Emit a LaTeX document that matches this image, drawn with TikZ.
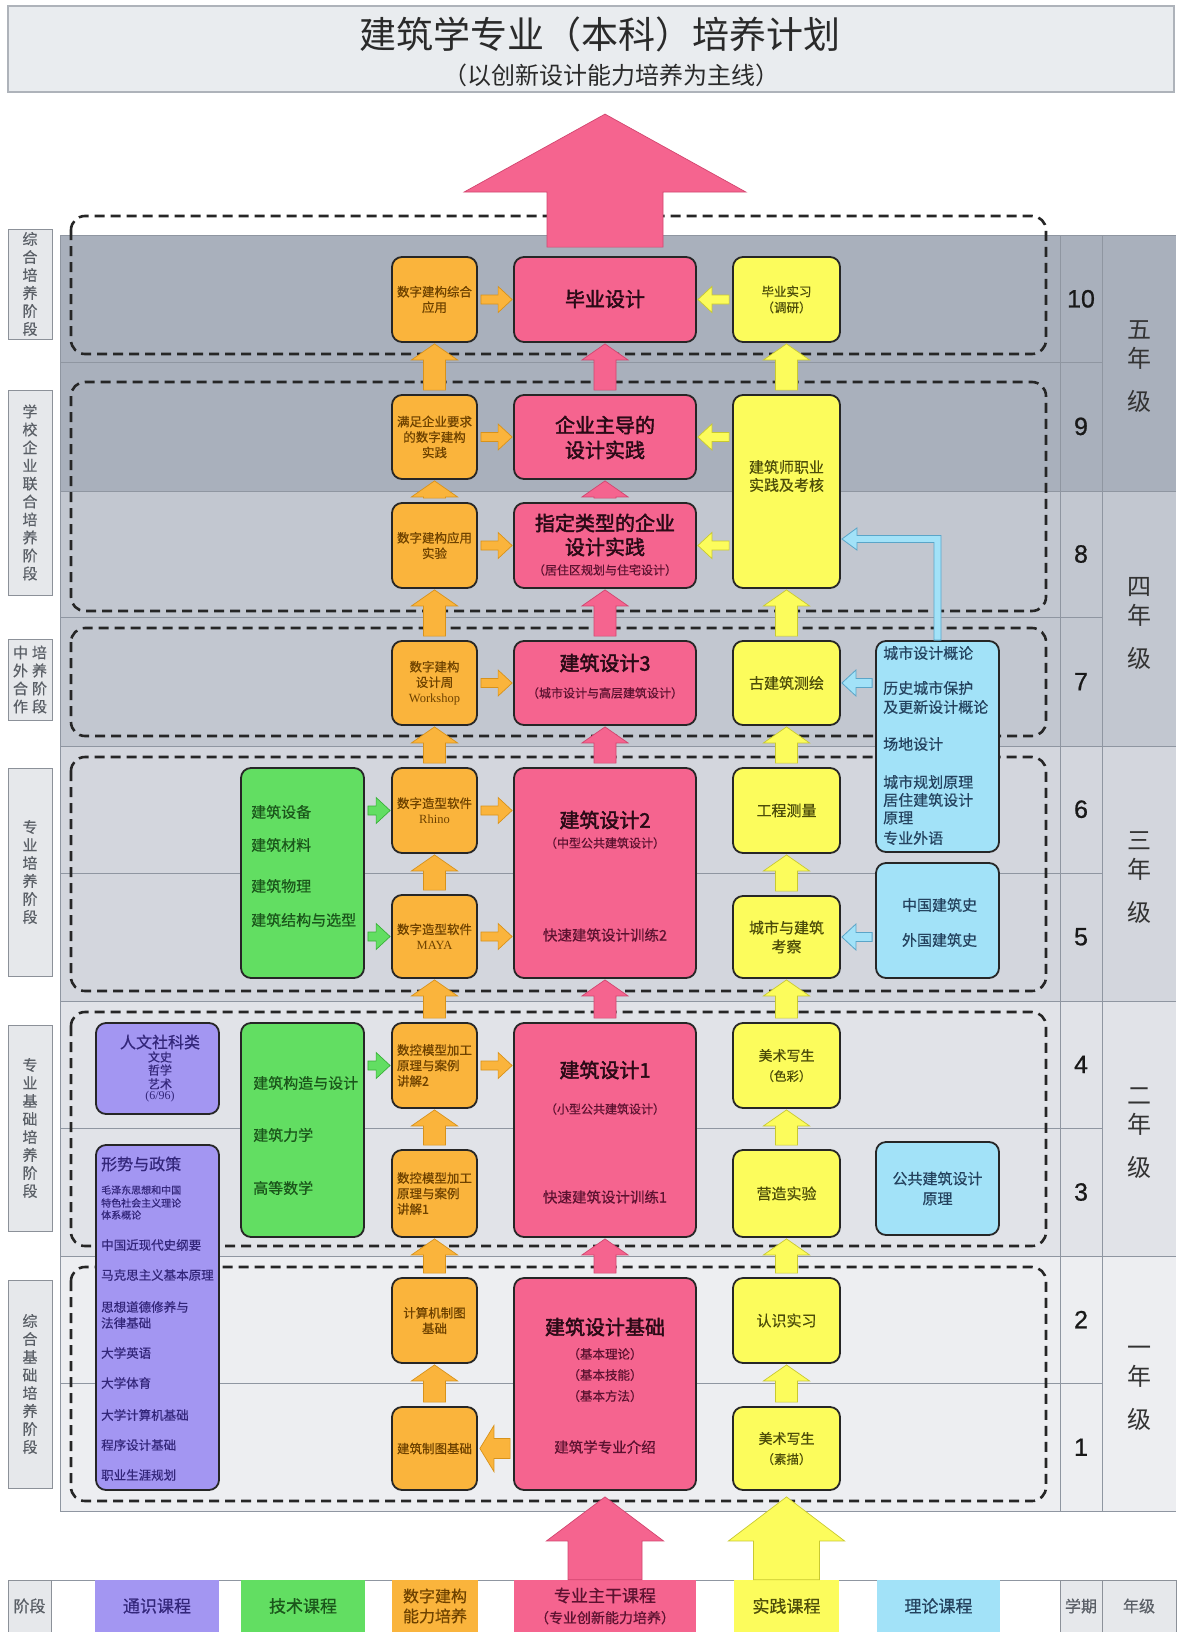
\documentclass[tikz,border=0pt]{standalone}
\usepackage{fontspec}
\setmainfont{Noto Sans CJK SC}
\newfontfamily\hei[FakeBold=0.5]{Noto Sans CJK SC}
\newfontfamily\heil{Noto Sans CJK SC}
\newfontfamily\heib[FakeBold=2.2]{Noto Sans CJK SC}
\newfontfamily\arialf[FakeBold=0.8]{Liberation Sans}
\newfontfamily\serf{Liberation Serif}
\usetikzlibrary{calc}
\newcommand\fs[2]{\fontsize{#1}{#2}\selectfont}

\definecolor{pinkF}{HTML}{F5648F}
\definecolor{pinkD}{HTML}{D2456F}
\definecolor{pinkT}{HTML}{2A0A16}
\definecolor{pinkS}{HTML}{5C1230}
\definecolor{orangeF}{HTML}{FAB43C}
\definecolor{orangeD}{HTML}{D8921A}
\definecolor{orangeT}{HTML}{6E4200}
\definecolor{yellowF}{HTML}{FCFC5C}
\definecolor{yellowD}{HTML}{C9C930}
\definecolor{yellowT}{HTML}{4D4D0A}
\definecolor{greenF}{HTML}{62DE62}
\definecolor{greenD}{HTML}{38B038}
\definecolor{greenT}{HTML}{1B561B}
\definecolor{purpleF}{HTML}{A396F2}
\definecolor{purpleT}{HTML}{33267A}
\definecolor{blueF}{HTML}{A2E2F8}
\definecolor{blueD}{HTML}{5AA5C8}
\definecolor{blueT}{HTML}{24425E}
\definecolor{yrA}{HTML}{A9B0BC}
\definecolor{yrB}{HTML}{C2C7D0}
\definecolor{yrC}{HTML}{D3D6DD}
\definecolor{yrD}{HTML}{E1E3E8}
\definecolor{yrE}{HTML}{EDEEF1}
\definecolor{gridL}{HTML}{8F96A1}
\definecolor{stageF}{HTML}{E6E8EB}
\definecolor{stageD}{HTML}{8C9199}
\definecolor{stageT}{HTML}{5A5F66}
\definecolor{boxD}{HTML}{262626}
\definecolor{titleF}{HTML}{E9ECEF}
\definecolor{titleD}{HTML}{AEB3BA}
\definecolor{titleT}{HTML}{2A2A2A}

% block arrow: style, start, tip, shaft half, head half, head length
\newcommand\blkarw[6]{%
  \coordinate (ba-s) at #2;
  \coordinate (ba-t) at #3;
  \coordinate (ba-h) at ($(ba-t)!#6!(ba-s)$);
  \path[#1] ($(ba-s)!#4!90:(ba-t)$) -- ($(ba-h)!#4!-90:(ba-s)$) -- ($(ba-h)!#5!-90:(ba-s)$) -- (ba-t) -- ($(ba-h)!#5!90:(ba-s)$) -- ($(ba-h)!#4!90:(ba-s)$) -- ($(ba-s)!#4!-90:(ba-t)$) -- cycle;
}
\newcommand\varw[3]{\blkarw{#3}{($(#1.north)+(0pt,4pt)$)}{($(#1.north |- #2.south)+(0pt,-1pt)$)}{11pt}{23pt}{16pt}}
\newcommand\rarw[4]{\blkarw{#1}{($(#2.east |- #4)+(3pt,0pt)$)}{($(#3.west |- #4)+(-1pt,0pt)$)}{4.5pt}{13pt}{14pt}}
\newcommand\larw[4]{\blkarw{#1}{($(#2.west |- #4)+(-3pt,0pt)$)}{($(#3.east |- #4)+(1pt,0pt)$)}{4.5pt}{13pt}{14pt}}

\begin{document}
\begin{tikzpicture}[x=1pt,y=-1pt,
  every node/.style={inner sep=0pt},
  wh/.style 2 args={minimum width=#1pt, minimum height=#2pt},
  box/.style={draw=boxD, line width=1.8pt, rounded corners=10pt, align=center, inner sep=0pt},
  pbox/.style={box, fill=pinkF},
  obox/.style={box, fill=orangeF, text=orangeT, font=\hei\fs{12.5}{15.5}},
  ybox/.style={box, fill=yellowF, text=yellowT, font=\hei\fs{15}{19}},
  gbox/.style={box, fill=greenF},
  ubox/.style={box, fill=purpleF},
  bbox/.style={box, fill=blueF, text=blueT, font=\hei\fs{15}{19}},
  ptit/.style={text=pinkT, font=\heib\fs{20}{25}},
  psub/.style={text=pinkS, font=\hei\fs{12}{14}},
  pmid/.style={text=pinkS, font=\hei\fs{14.5}{17}},
  gtxt/.style={text=greenT, font=\hei\fs{15}{18}, anchor=west},
  btxt/.style={text=blueT, font=\hei\fs{15}{18}, anchor=west},
  utxt/.style={text=purpleT, font=\hei\fs{12.5}{15}, anchor=west},
  usml/.style={text=purpleT, font=\hei\fs{10}{12}, anchor=west},
  stage/.style={draw=stageD, line width=1pt, fill=stageF, text=stageT, font=\hei\fs{15}{18}, align=center},
  grp/.style={draw=black!85, line width=2.6pt, dash pattern=on 10pt off 6pt, rounded corners=14pt},
  oarw/.style={fill=orangeF, draw=orangeD, line width=0.7pt},
  parw/.style={fill=pinkF, draw=pinkD, line width=0.7pt},
  yarw/.style={fill=yellowF, draw=yellowD, line width=0.7pt},
  garw/.style={fill=greenF, draw=greenD, line width=0.7pt},
  barw/.style={fill=blueF, draw=blueD, line width=0.8pt},
  semtxt/.style={font=\arialf\fs{25}{28}, text=black!90},
  grtxt/.style={font=\heil\fs{24}{29}, text=black!80, align=center},
  lgcell/.style={minimum height=52pt, align=center},
]
\fill[white] (0,0) rectangle (1176,1632);
\useasboundingbox (0,0) rectangle (1176,1632);

% title
\node[draw=titleD, fill=titleF, line width=1.2pt, wh={1166}{86}] (ttl) at (591,49) {};
\node[font=\heil\fs{37}{40}, text=titleT] (ttla) at (600,34) {建筑学专业（本科）培养计划};
\node[font=\heil\fs{24}{28}, text=titleT] (ttlb) at (611,75) {（以创新设计能力培养为主线）};

% year bands
\fill[yrA] (60,235) rectangle (1176,491.2);
\fill[yrB] (60,491.2) rectangle (1176,746.4);
\fill[yrC] (60,746.4) rectangle (1176,1001.6);
\fill[yrD] (60,1001.6) rectangle (1176,1256.8);
\fill[yrE] (60,1256.8) rectangle (1176,1511);
\foreach \yy in {362.6,617.8,873,1128.2,1383.4} \draw[gridL, line width=0.8pt] (60,\yy) -- (1102,\yy);
\foreach \yy in {235,491.2,746.4,1001.6,1256.8,1511} \draw[gridL, line width=0.8pt] (60,\yy) -- (1176,\yy);
\draw[gridL, line width=0.8pt] (60,235) -- (60,1511);
\draw[gridL, line width=0.8pt] (1060,235) -- (1060,1511);
\draw[gridL, line width=0.8pt] (1102,235) -- (1102,1511);

% semesters and grades
\foreach \n/\yy in {10/298.8, 9/426.4, 8/554, 7/681.6, 6/809.2, 5/936.8, 4/1064.4, 3/1192, 2/1319.6, 1/1447.2}
  \node[semtxt] (sem\n) at (1081,\yy) {\n};
\node[grtxt] (gr5) at (1139,367) {五\\年\\[14pt]级};
\node[grtxt] (gr4) at (1139,623) {四\\年\\[14pt]级};
\node[grtxt] (gr3) at (1139,878) {三\\年\\[14pt]级};
\node[grtxt] (gr2) at (1139,1133) {二\\年\\[14pt]级};
\node[grtxt] (gr1) at (1139,1388) {一\\年\\[14pt]级};

% stage labels
\node[stage, wh={44}{110}] (s1) at (30,284) {综\\合\\培\\养\\阶\\段};
\node[stage, wh={44}{205}] (s2) at (30,492.5) {学\\校\\企\\业\\联\\合\\培\\养\\阶\\段};
\node[stage, wh={44}{81}] (s3) at (30,679.5) {中\hspace{4pt}培\\外\hspace{4pt}养\\合\hspace{4pt}阶\\作\hspace{4pt}段};
\node[stage, wh={44}{208}] (s4) at (30,872) {专\\业\\培\\养\\阶\\段};
\node[stage, wh={44}{206}] (s5) at (30,1128) {专\\业\\基\\础\\培\\养\\阶\\段};
\node[stage, wh={44}{208}] (s6) at (30,1384) {综\\合\\基\\础\\培\\养\\阶\\段};

% dashed stage groups
\draw[grp] (71,216) rectangle (1046,354);
\draw[grp] (71,382) rectangle (1046,611);
\draw[grp] (71,628) rectangle (1046,736);
\draw[grp] (71,757) rectangle (1046,991);
\draw[grp] (71,1012) rectangle (1046,1246);
\draw[grp] (71,1267) rectangle (1046,1501);

% orange column
\node[obox, wh={85}{85}] (o10) at (434.5,299.5) {数字建构综合\\应用};
\node[obox, wh={85}{84}] (o9) at (434.5,437) {满足企业要求\\的数字建构\\实践};
\node[obox, wh={85}{85}] (o8) at (434.5,545.5) {数字建构应用\\实验};
\node[obox, wh={85}{84}] (o7) at (434.5,683) {数字建构\\设计周\\{\serf Workshop}};
\node[obox, wh={85}{85}] (o6) at (434.5,810.5) {数字造型软件\\{\serf Rhino}};
\node[obox, wh={85}{83}] (o5) at (434.5,936.5) {数字造型软件\\{\serf MAYA}};
\node[obox, align=left, wh={85}{85}] (o4) at (434.5,1065.5) {数控模型加工\\原理与案例\\讲解2};
\node[obox, align=left, wh={85}{87}] (o3) at (434.5,1193.5) {数控模型加工\\原理与案例\\讲解1};
\node[obox, wh={85}{85}] (o2) at (434.5,1320.5) {计算机制图\\基础};
\node[obox, wh={85}{83}] (o1) at (434.5,1448.5) {建筑制图基础};

% pink column
\node[pbox, wh={182}{85}] (pk10) at (605,299.5) {};
\node[ptit] (pk10a) at (605,299) {毕业设计};
\node[pbox, wh={182}{84}] (pk9) at (605,437) {};
\node[ptit] (pk9a) at (605,425) {企业主导的};
\node[ptit] (pk9b) at (605,450) {设计实践};
\node[pbox, wh={182}{85}] (pk8) at (605,545.5) {};
\node[ptit] (pk8a) at (605,523) {指定类型的企业};
\node[ptit] (pk8b) at (605,547) {设计实践};
\node[psub] (pk8c) at (605,570) {（居住区规划与住宅设计）};
\node[pbox, wh={182}{84}] (pk7) at (605,683) {};
\node[ptit] (pk7a) at (605,663) {建筑设计3};
\node[psub] (pk7b) at (605,693) {（城市设计与高层建筑设计）};
\node[pbox, wh={182}{210}] (pk6) at (605,873) {};
\node[ptit] (pk6a) at (605,820) {建筑设计2};
\node[psub] (pk6b) at (605,843) {（中型公共建筑设计）};
\node[pmid] (pk6c) at (605,935) {快速建筑设计训练2};
\node[pbox, wh={182}{214}] (pk4) at (605,1130) {};
\node[ptit] (pk4a) at (605,1070) {建筑设计1};
\node[psub] (pk4b) at (605,1109) {（小型公共建筑设计）};
\node[pmid] (pk4c) at (605,1197) {快速建筑设计训练1};
\node[pbox, wh={182}{212}] (pk2) at (605,1384) {};
\node[ptit] (pk2a) at (605,1327) {建筑设计基础};
\node[psub, font=\hei\fs{12.5}{14}] (pk2b) at (605,1354) {（基本理论）};
\node[psub, font=\hei\fs{12.5}{14}] (pk2c) at (605,1375) {（基本技能）};
\node[psub, font=\hei\fs{12.5}{14}] (pk2d) at (605,1396) {（基本方法）};
\node[pmid] (pk2e) at (605,1447) {建筑学专业介绍};

% yellow column
\node[ybox, font=\hei\fs{12.5}{16}, wh={107}{85}] (y10) at (786.5,299.5) {毕业实习\\（调研）};
\node[ybox, wh={107}{193}] (y9) at (786.5,491.5) {};
\node[text=yellowT, font=\hei\fs{15}{18}, align=center] (y9a) at (786.5,476) {建筑师职业\\实践及考核};
\node[ybox, wh={107}{84}] (y7) at (786.5,683) {古建筑测绘};
\node[ybox, wh={107}{85}] (y6) at (786.5,810.5) {工程测量};
\node[ybox, wh={107}{82}] (y5) at (786.5,937) {城市与建筑\\考察};
\node[ybox, font=\hei\fs{14}{20}, wh={107}{85}] (y4) at (786.5,1065.5) {美术写生\\{\fs{12.5}{15}（色彩）}};
\node[ybox, wh={107}{87}] (y3) at (786.5,1193.5) {营造实验};
\node[ybox, wh={107}{85}] (y2) at (786.5,1320.5) {认识实习};
\node[ybox, font=\hei\fs{14}{20}, wh={107}{83}] (y1) at (786.5,1448.5) {美术写生\\{\fs{12.5}{15}（素描）}};

% green column
\node[gbox, wh={123}{210}] (g6) at (302.5,873) {};
\node[gtxt] (g6a) at (251,812) {建筑设备};
\node[gtxt] (g6b) at (251,845) {建筑材料};
\node[gtxt] (g6c) at (251,886) {建筑物理};
\node[gtxt] (g6d) at (251,920) {建筑结构与选型};
\node[gbox, wh={123}{214}] (g4) at (302.5,1130) {};
\node[gtxt] (g4a) at (253,1083) {建筑构造与设计};
\node[gtxt] (g4b) at (253,1135) {建筑力学};
\node[gtxt] (g4c) at (253,1188) {高等数学};

% blue column
\node[bbox, wh={123}{211}] (b7) at (937.5,746.5) {};
\node[btxt] (b7a) at (883,653) {城市设计概论};
\node[btxt] (b7b) at (883,688) {历史城市保护};
\node[btxt] (b7c) at (883,707) {及更新设计概论};
\node[btxt] (b7d) at (883,744) {场地设计};
\node[btxt] (b7e) at (883,782) {城市规划原理};
\node[btxt] (b7f) at (883,800) {居住建筑设计};
\node[btxt] (b7g) at (883,818) {原理};
\node[btxt] (b7h) at (883,838) {专业外语};
\node[bbox, wh={123}{115}] (b5) at (937.5,920.5) {};
\node[text=blueT, font=\hei\fs{15}{18}] (b5a) at (939.5,905) {中国建筑史};
\node[text=blueT, font=\hei\fs{15}{18}] (b5b) at (939.5,940) {外国建筑史};
\node[bbox, font=\hei\fs{15}{20}, wh={123}{93}] (b3) at (937.5,1188.5) {公共建筑设计\\原理};

% purple column
\node[ubox, wh={123}{91}] (u4) at (157.5,1068.5) {};
\node[text=purpleT, font=\hei\fs{16}{18}] (u4a) at (160,1042) {人文社科类};
\node[text=purpleT, font=\hei\fs{12}{14}] (u4b) at (160,1057) {文史};
\node[text=purpleT, font=\hei\fs{12}{14}] (u4c) at (160,1070) {哲学};
\node[text=purpleT, font=\hei\fs{12}{14}] (u4d) at (160,1084) {艺术};
\node[text=purpleT, font=\serf\fs{12}{14}] (u4e) at (160,1097) {(6/96)};
\node[ubox, wh={123}{345}] (u3) at (157.5,1317.5) {};
\node[utxt, font=\hei\fs{16}{18}] (u3a) at (101,1164) {形势与政策};
\node[usml] (u3b) at (101,1190) {毛泽东思想和中国};
\node[usml] (u3c) at (101,1203) {特色社会主义理论};
\node[usml] (u3d) at (101,1215) {体系概论};
\node[utxt] (u3e) at (101,1245) {中国近现代史纲要};
\node[utxt] (u3f) at (101,1275) {马克思主义基本原理};
\node[utxt] (u3g) at (101,1307) {思想道德修养与};
\node[utxt] (u3h) at (101,1323) {法律基础};
\node[utxt] (u3i) at (101,1353) {大学英语};
\node[utxt] (u3j) at (101,1383) {大学体育};
\node[utxt] (u3k) at (101,1415) {大学计算机基础};
\node[utxt] (u3l) at (101,1445) {程序设计基础};
\node[utxt] (u3m) at (101,1475) {职业生涯规划};

% vertical arrows
\varw{o1}{o2}{oarw} \varw{o2}{o3}{oarw} \varw{o3}{o4}{oarw} \varw{o4}{o5}{oarw} \varw{o5}{o6}{oarw}
\varw{o6}{o7}{oarw} \varw{o7}{o8}{oarw} \varw{o8}{o9}{oarw} \varw{o9}{o10}{oarw}
\varw{pk2}{pk4}{parw} \varw{pk4}{pk6}{parw} \varw{pk6}{pk7}{parw} \varw{pk7}{pk8}{parw} \varw{pk8}{pk9}{parw} \varw{pk9}{pk10}{parw}
\varw{y1}{y2}{yarw} \varw{y2}{y3}{yarw} \varw{y3}{y4}{yarw} \varw{y4}{y5}{yarw} \varw{y5}{y6}{yarw}
\varw{y6}{y7}{yarw} \varw{y7}{y9}{yarw} \varw{y9}{y10}{yarw}

% horizontal arrows
\rarw{oarw}{o10}{pk10}{o10} \rarw{oarw}{o9}{pk9}{o9} \rarw{oarw}{o8}{pk8}{o8} \rarw{oarw}{o7}{pk7}{o7}
\rarw{oarw}{o6}{pk6}{o6} \rarw{oarw}{o5}{pk6}{o5} \rarw{oarw}{o4}{pk4}{o4}
\larw{yarw}{y10}{pk10}{y10} \larw{yarw}{y9}{pk9}{pk9} \larw{yarw}{y9}{pk8}{pk8}
\rarw{garw}{g6}{o6}{o6} \rarw{garw}{g6}{o5}{o5} \rarw{garw}{g4}{o4}{o4}
\larw{barw}{b7}{y7}{y7} \larw{barw}{b5}{y5}{y5}
\blkarw{oarw}{($(pk2.west |- o1)+(-3pt,0pt)$)}{($(o1.east)+(2pt,0pt)$)}{10pt}{23pt}{14pt}

% elbow connector from urban-design theory to professional practice
\coordinate (elb) at (0,539);
\path[barw] let \p1=(b7.north), \p2=(y9.east), \p3=(elb) in
  (\x1-3.5pt,\y1) -- (\x1-3.5pt,\y3-3.5pt) -- (\x2+16pt,\y3-3.5pt) -- (\x2+16pt,\y3-11pt)
  -- (\x2+1pt,\y3) -- (\x2+16pt,\y3+11pt) -- (\x2+16pt,\y3+3.5pt) -- (\x1+3.5pt,\y3+3.5pt)
  -- (\x1+3.5pt,\y1) -- cycle;

% legend
\draw[gridL, line width=1pt] (8,1580) -- (1176,1580);
\node[lgcell, fill=stageF, draw=stageD, line width=0.6pt, wh={43}{52}, font=\hei\fs{16}{19}, text=stageT] (lg0) at (29.5,1606) {阶段};
\node[lgcell, fill=purpleF, wh={124}{52}, font=\hei\fs{17}{20}, text=purpleT] (lgu) at (157,1606) {通识课程};
\node[lgcell, fill=greenF, wh={124}{52}, font=\hei\fs{17}{20}, text=greenT] (lgg) at (303,1606) {技术课程};
\node[lgcell, fill=orangeF, wh={86}{52}, font=\hei\fs{16}{20}, text=orangeT] (lgo) at (435,1606) {数字建构\\能力培养};
\node[lgcell, fill=pinkF, wh={182}{52}, font=\hei\fs{16}{21}, text=pinkS] (lgp) at (605,1606) {{\fs{17}{20}专业主干课程}\\{\fs{14}{16}（专业创新能力培养）}};
\node[lgcell, fill=yellowF, wh={105}{52}, font=\hei\fs{17}{20}, text=yellowT] (lgy) at (786.5,1606) {实践课程};
\node[lgcell, fill=blueF, wh={123}{52}, font=\hei\fs{17}{20}, text=blueT] (lgb) at (938.5,1606) {理论课程};
\node[lgcell, fill=stageF, draw=stageD, line width=0.6pt, wh={42}{52}, font=\hei\fs{16}{19}, text=stageT] (lgs) at (1081,1606) {学期};
\node[lgcell, fill=stageF, draw=stageD, line width=0.6pt, wh={74}{52}, font=\hei\fs{16}{19}, text=stageT] (lgn) at (1139,1606) {年级};

% big arrows
\blkarw{parw}{($(pk10.north)+(0pt,9pt)$)}{($(pk10.north)+(0pt,142pt)$)}{58pt}{141pt}{78pt}
\blkarw{parw}{(lgp.north)}{($(pk2.south)+(0pt,-6pt)$)}{37pt}{58.5pt}{44pt}
\blkarw{yarw}{(lgy.north)}{($(y1.south)+(0pt,-6pt)$)}{33pt}{58pt}{44pt}
\end{tikzpicture}
\end{document}
